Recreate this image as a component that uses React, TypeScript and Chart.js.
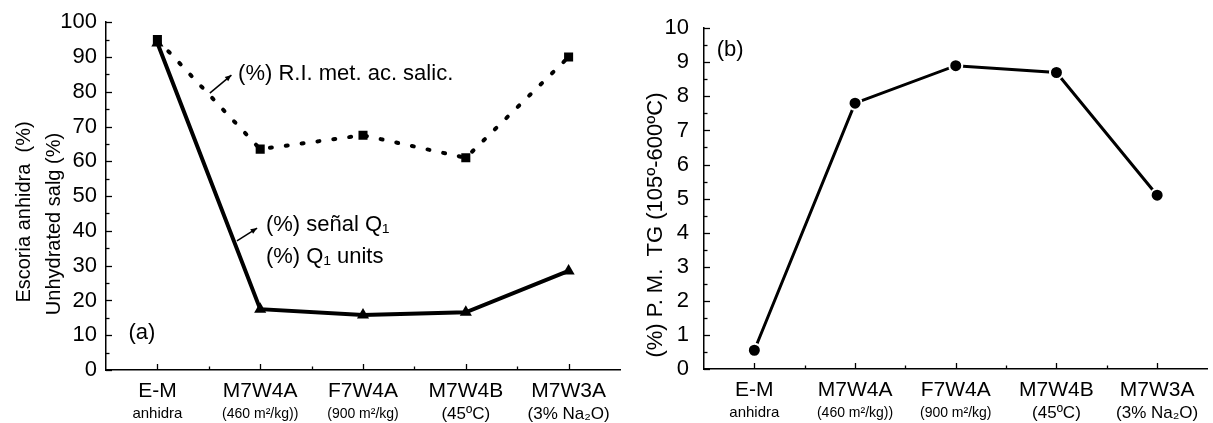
import React, { useEffect, useRef } from 'react';
import { Chart, registerables } from 'chart.js';

Chart.register(...registerables);

// ---------- data ----------
const categories = ['E-M', 'M7W4A', 'F7W4A', 'M7W4B', 'M7W3A'];
const categorySubLabels = ['anhidra', '(460 m²/kg))', '(900 m²/kg)', '(45ºC)', '(3% Na₂O)'];
const riValues = [95, 63.5, 67.5, 61, 90];
const q1Values = [94, 17.5, 15.8, 16.6, 28.5];
const pmValues = [0.55, 7.8, 8.9, 8.7, 5.1];
const leftYRange = [0, 100];
const rightYRange = [0, 10];

// ---------- style ----------
const FONT = '"Liberation Sans", Arial, Helvetica, sans-serif';
const subLabelSizes = [15, 14, 14, 17, 17];

type Note = { text: string; i: number; v: number; size: number; align: CanvasTextAlign };
type Arrow = { i1: number; v1: number; i2: number; v2: number };
type Title = { text: string; x: number; y: number; size: number };

function drawArrow(ctx: CanvasRenderingContext2D, x1: number, y1: number, x2: number, y2: number) {
  ctx.save();
  ctx.strokeStyle = '#000';
  ctx.fillStyle = '#000';
  ctx.lineWidth = 1.5;
  ctx.beginPath();
  ctx.moveTo(x1, y1);
  ctx.lineTo(x2, y2);
  ctx.stroke();
  const a = Math.atan2(y2 - y1, x2 - x1);
  const s = 7;
  ctx.beginPath();
  ctx.moveTo(x2, y2);
  ctx.lineTo(x2 - s * Math.cos(a - 0.4), y2 - s * Math.sin(a - 0.4));
  ctx.lineTo(x2 - s * Math.cos(a + 0.4), y2 - s * Math.sin(a + 0.4));
  ctx.closePath();
  ctx.fill();
  ctx.restore();
}

function makeDecor(cfg: {
  minorStep: number;
  majorStep: number;
  titles: Title[];
  notes: Note[];
  arrows: Arrow[];
}) {
  return {
    id: 'decor',
    afterDraw(chart: any) {
      const ctx: CanvasRenderingContext2D = chart.ctx;
      const xs = chart.scales.x;
      const ys = chart.scales.y;
      const area = chart.chartArea;
      ctx.save();
      ctx.strokeStyle = '#000';
      ctx.fillStyle = '#000';
      ctx.lineWidth = 1.3;
      // y ticks (inward)
      const min = ys.min, max = ys.max;
      for (let v = min; v <= max + 1e-9; v += cfg.minorStep) {
        const py = Math.round(ys.getPixelForValue(v)) + 0.5;
        const isMajor = Math.abs(v / cfg.majorStep - Math.round(v / cfg.majorStep)) < 1e-6;
        const len = isMajor ? 6 : 3.5;
        ctx.beginPath();
        ctx.moveTo(area.left, py);
        ctx.lineTo(area.left + len, py);
        ctx.stroke();
      }
      // x ticks (inward)
      for (let i = 0; i < categories.length; i++) {
        const px = Math.round(xs.getPixelForValue(i)) + 0.5;
        ctx.beginPath();
        ctx.moveTo(px, area.bottom);
        ctx.lineTo(px, area.bottom - 6);
        ctx.stroke();
        if (i < categories.length - 1) {
          const pm = Math.round((xs.getPixelForValue(i) + xs.getPixelForValue(i + 1)) / 2) + 0.5;
          ctx.beginPath();
          ctx.moveTo(pm, area.bottom);
          ctx.lineTo(pm, area.bottom - 3.5);
          ctx.stroke();
        }
      }
      // x labels
      ctx.textAlign = 'center';
      ctx.textBaseline = 'middle';
      for (let i = 0; i < categories.length; i++) {
        const px = xs.getPixelForValue(i);
        ctx.font = `21px ${FONT}`;
        ctx.fillText(categories[i], px, area.bottom + 21);
        ctx.font = `${subLabelSizes[i]}px ${FONT}`;
        ctx.fillText(categorySubLabels[i], px, area.bottom + 44);
      }
      // rotated axis titles
      for (const t of cfg.titles) {
        ctx.save();
        ctx.translate(t.x, t.y);
        ctx.rotate(-Math.PI / 2);
        ctx.font = `${t.size}px ${FONT}`;
        ctx.textAlign = 'center';
        ctx.textBaseline = 'middle';
        ctx.fillText(t.text, 0, 0);
        ctx.restore();
      }
      // notes
      for (const n of cfg.notes) {
        const px = xs.getPixelForValue(n.i);
        const py = ys.getPixelForValue(n.v);
        ctx.font = `${n.size}px ${FONT}`;
        ctx.textAlign = n.align;
        ctx.textBaseline = 'middle';
        ctx.fillText(n.text, px, py);
      }
      for (const a of cfg.arrows) {
        drawArrow(
          ctx,
          xs.getPixelForValue(a.i1),
          ys.getPixelForValue(a.v1),
          xs.getPixelForValue(a.i2),
          ys.getPixelForValue(a.v2)
        );
      }
      ctx.restore();
    },
  };
}

function baseScales(yMin: number, yMax: number, step: number, yWidth: number, xHeight: number, pad: number) {
  return {
    x: {
      type: 'category' as const,
      offset: true,
      grid: { display: false, drawTicks: false },
      border: { display: true, color: '#000', width: 1.5 },
      ticks: { display: false },
      afterFit: (s: any) => {
        s.height = xHeight;
      },
    },
    y: {
      min: yMin,
      max: yMax,
      grid: { display: false, drawTicks: false },
      border: { display: true, color: '#000', width: 1.5 },
      ticks: { stepSize: step, padding: pad, color: '#000', font: { family: FONT, size: 22 } },
      afterFit: (s: any) => {
        s.width = yWidth;
      },
    },
  };
}

function LeftChart() {
  const ref = useRef<HTMLCanvasElement>(null);
  useEffect(() => {
    if (!ref.current) return;
    const chart = new Chart(ref.current, {
      type: 'line',
      data: {
        labels: categories,
        datasets: [
          {
            label: '(%) R.I. met. ac. salic.',
            data: riValues,
            borderColor: '#000',
            backgroundColor: '#000',
            borderWidth: 4,
            borderDash: [2, 14],
            borderCapStyle: 'round',
            pointStyle: 'rect',
            pointRadius: 6.4,
            pointBorderWidth: 0,
            pointBackgroundColor: '#000',
          },
          {
            label: '(%) señal Q₁',
            data: q1Values,
            borderColor: '#000',
            backgroundColor: '#000',
            borderWidth: 4,
            pointStyle: 'triangle',
            pointRadius: 7,
            pointBorderWidth: 0,
            pointBackgroundColor: '#000',
          },
        ],
      },
      options: {
        responsive: false,
        animation: false,
        devicePixelRatio: 1,
        layout: { padding: { top: 22, right: 20, left: 0, bottom: 0 } },
        plugins: { legend: { display: false }, tooltip: { enabled: false } },
        scales: baseScales(leftYRange[0], leftYRange[1], 10, 106, 53, 9) as any,
      },
      plugins: [
        makeDecor({
          minorStep: 5,
          majorStep: 10,
          titles: [
            { text: 'Escoria anhidra  (%)', x: 24, y: 212, size: 20 },
            { text: 'Unhydrated salg (%)', x: 54, y: 224, size: 20 },
          ],
          notes: [
            { text: '(%) R.I. met. ac. salic.', i: 0.785, v: 85.1, size: 22, align: 'left' },
            { text: '(%) señal Q₁', i: 1.056, v: 41.7, size: 22, align: 'left' },
            { text: '(%) Q₁ units', i: 1.056, v: 32.5, size: 22, align: 'left' },
            { text: '(a)', i: -0.15, v: 10.6, size: 22, align: 'center' },
          ],
          arrows: [
            { i1: 0.51, v1: 79.6, i2: 0.72, v2: 84.8 },
            { i1: 0.774, v1: 37.1, i2: 0.97, v2: 40.8 },
          ],
        }) as any,
      ],
    });
    return () => chart.destroy();
  }, []);
  return (
    <canvas
      ref={ref}
      width={640}
      height={423}
      style={{ position: 'absolute', left: 0, top: 0, width: 640, height: 423 }}
    />
  );
}

function RightChart() {
  const ref = useRef<HTMLCanvasElement>(null);
  useEffect(() => {
    if (!ref.current) return;
    const chart = new Chart(ref.current, {
      type: 'line',
      data: {
        labels: categories,
        datasets: [
          {
            label: '(%) P. M. TG (105º-600ºC)',
            data: pmValues,
            borderColor: '#000',
            backgroundColor: '#000',
            borderWidth: 3,
            pointStyle: 'circle',
            pointRadius: 6.5,
            pointBorderWidth: 2,
            pointBorderColor: '#fff',
            pointBackgroundColor: '#000',
          },
        ],
      },
      options: {
        responsive: false,
        animation: false,
        devicePixelRatio: 1,
        layout: { padding: { top: 23, right: 1, left: 0, bottom: 0 } },
        plugins: { legend: { display: false }, tooltip: { enabled: false } },
        scales: baseScales(rightYRange[0], rightYRange[1], 1, 64, 54, 15) as any,
      },
      plugins: [
        makeDecor({
          minorStep: 0.5,
          majorStep: 1,
          titles: [{ text: '(%) P. M.  TG (105º-600ºC)', x: 16, y: 225, size: 22 }],
          notes: [{ text: '(b)', i: -0.24, v: 9.36, size: 22, align: 'center' }],
          arrows: [],
        }) as any,
      ],
    });
    return () => chart.destroy();
  }, []);
  return (
    <canvas
      ref={ref}
      width={576}
      height={423}
      style={{ position: 'absolute', left: 640, top: 0, width: 576, height: 423 }}
    />
  );
}

export default function App() {
  return (
    <div
      style={{
        position: 'absolute',
        left: 0,
        top: 0,
        width: 1213,
        height: 423,
        overflow: 'hidden',
        background: '#fff',
      }}
    >
      <LeftChart />
      <RightChart />
    </div>
  );
}
